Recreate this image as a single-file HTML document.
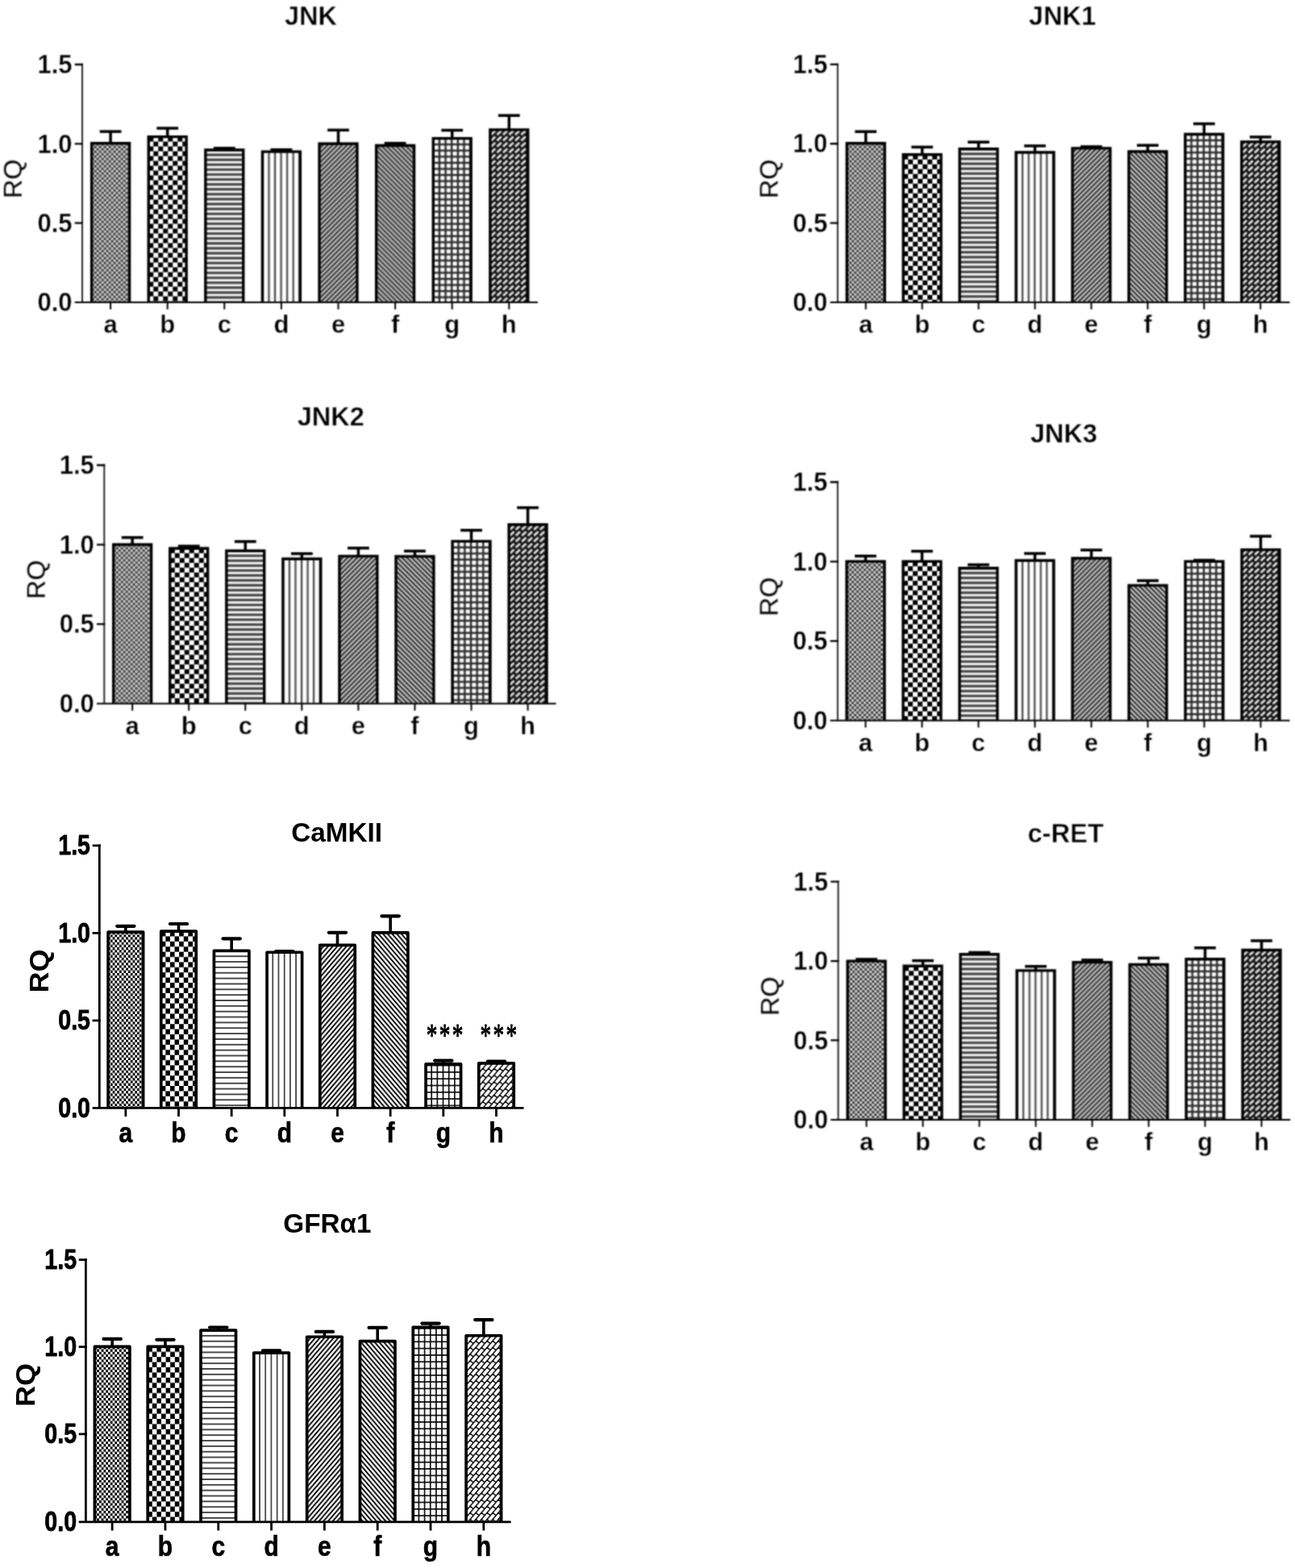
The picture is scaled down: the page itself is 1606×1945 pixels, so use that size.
<!DOCTYPE html>
<html lang="en">
<head>
<meta charset="utf-8">
<title>RQ bar charts: JNK, JNK1, JNK2, JNK3, CaMKII, c-RET, GFRα1</title>
<style>
html,body{margin:0;padding:0;background:#fff;}
body{width:1606px;height:1945px;overflow:hidden;}
svg{display:block;}
svg text{font-family:"Liberation Sans", sans-serif;fill:#000;}
</style>
</head>
<body>
<svg width="1606" height="1945" viewBox="0 0 1606 1945" role="img" aria-label="Bar charts of relative quantity (RQ) for groups a to h">
<rect width="1606" height="1945" fill="#fff"/>

<defs>
<filter id="soft" x="-4%" y="-4%" width="108%" height="108%" color-interpolation-filters="sRGB"><feConvolveMatrix order="5 1" kernelMatrix="0.0219 0.2285 0.4991 0.2285 0.0219" divisor="1" edgeMode="none" preserveAlpha="false" result="h"/><feConvolveMatrix in="h" order="1 5" kernelMatrix="0.0219 0.2285 0.4991 0.2285 0.0219" divisor="1" edgeMode="none" preserveAlpha="false"/></filter>
<!-- style A (fine) patterns -->
<pattern id="Aa" width="6" height="6" patternUnits="userSpaceOnUse"><rect width="6" height="6" fill="#d4d4d4"/><rect width="3" height="3" fill="#3c3c3c"/><rect x="3" y="3" width="3" height="3" fill="#3c3c3c"/></pattern>
<pattern id="Ab" width="12" height="12" patternUnits="userSpaceOnUse"><rect width="12" height="12" fill="#fff"/><rect width="6" height="6" fill="#000"/><rect x="6" y="6" width="6" height="6" fill="#000"/></pattern>
<pattern id="Ac" width="6.1" height="6.1" patternUnits="userSpaceOnUse"><rect width="6.1" height="6.1" fill="#f8f8f8"/><rect y="0" width="6.1" height="1.55" fill="#404040"/><rect y="4.55" width="6.1" height="1.55" fill="#404040"/></pattern>
<pattern id="Ad" width="7.55" height="8" patternUnits="userSpaceOnUse"><rect width="7.55" height="8" fill="#fff"/><rect x="0" width="1.15" height="8" fill="#484848"/><rect x="6.4" width="1.15" height="8" fill="#484848"/></pattern>
<pattern id="Ae" width="6" height="6" patternUnits="userSpaceOnUse"><rect width="6" height="6" fill="#cfcfcf"/><path d="M-1.5,1.5 L1.5,-1.5 M-1,7 L7,-1 M4.5,7.5 L7.5,4.5" stroke="#2c2c2c" stroke-width="2.15"/></pattern>
<pattern id="Af" width="6" height="6" patternUnits="userSpaceOnUse"><rect width="6" height="6" fill="#cfcfcf"/><path d="M-1.5,4.5 L1.5,7.5 M-1,-1 L7,7 M4.5,-1.5 L7.5,1.5" stroke="#2c2c2c" stroke-width="2.15"/></pattern>
<pattern id="Ag" width="7.65" height="7.58" patternUnits="userSpaceOnUse"><rect width="7.65" height="7.58" fill="#2a2a2a"/><rect x="1.25" y="1.25" width="5.15" height="5.08" fill="#fff"/></pattern>
<pattern id="Ah" width="7.5" height="7.4" patternUnits="userSpaceOnUse"><rect width="7.5" height="7.4" fill="#101010"/><path d="M1.9,5.5 L5.6,1.9" stroke="#e4e4e4" stroke-width="2.8" stroke-linecap="round"/></pattern>
<!-- style B (coarse, crisp) patterns -->
<pattern id="Ba" width="5.54" height="6.36" patternUnits="userSpaceOnUse"><rect width="5.54" height="6.36" fill="#fff"/><rect width="2.77" height="3.18" fill="#000"/><rect x="2.77" y="3.18" width="2.77" height="3.18" fill="#000"/></pattern>
<pattern id="Bb" width="11.2" height="12.8" patternUnits="userSpaceOnUse"><rect width="11.2" height="12.8" fill="#fff"/><rect width="5.6" height="6.4" fill="#000"/><rect x="5.6" y="6.4" width="5.6" height="6.4" fill="#000"/></pattern>
<pattern id="Bc" width="6.85" height="6.85" patternUnits="userSpaceOnUse"><rect width="6.85" height="6.85" fill="#fff"/><rect y="0" width="6.85" height="0.7" fill="#000"/><rect y="6.15" width="6.85" height="0.7" fill="#000"/></pattern>
<pattern id="Bd" width="7.2" height="8" patternUnits="userSpaceOnUse"><rect width="7.2" height="8" fill="#fff"/><rect x="0" width="0.65" height="8" fill="#000"/><rect x="6.55" width="0.65" height="8" fill="#000"/></pattern>
<pattern id="Be" width="5.7" height="6.65" patternUnits="userSpaceOnUse"><rect width="5.7" height="6.65" fill="#fff"/><path d="M-2.85,3.325 L2.85,-3.325 M-1.425,8.3125 L7.125,-1.6625 M2.85,9.975000000000001 L8.55,3.325" stroke="#000" stroke-width="1.9"/></pattern>
<pattern id="Bf" width="5.7" height="6.65" patternUnits="userSpaceOnUse"><rect width="5.7" height="6.65" fill="#fff"/><path d="M-2.85,3.325 L2.85,9.975000000000001 M-1.425,-1.6625 L7.125,8.3125 M2.85,-3.325 L8.55,3.325" stroke="#000" stroke-width="1.9"/></pattern>
<pattern id="Bg" width="7.15" height="8.3" patternUnits="userSpaceOnUse"><rect width="7.15" height="8.3" fill="#fff"/><rect width="7.15" height="0.8" fill="#000"/><rect y="7.5" width="7.15" height="0.8" fill="#000"/><rect width="0.8" height="8.3" fill="#000"/><rect x="6.35" width="0.8" height="8.3" fill="#000"/></pattern>
<pattern id="Bh" width="7.0" height="8.2" patternUnits="userSpaceOnUse"><rect width="7.0" height="8.2" fill="#fff"/><path d="M-0.70,13.12 L14.70,-4.92 M-7.70,13.12 L7.70,-4.92 M6.30,13.12 L21.70,-4.92 M-2.05,-1.75 L2.05,1.75 M4.95,-1.75 L9.05,1.75 M-2.05,6.45 L2.05,9.95 M4.95,6.45 L9.05,9.95" stroke="#000" stroke-width="1.45" fill="none"/></pattern>
</defs>

<g filter="url(#soft)">
<text transform="translate(385.5 31.2) scale(1 1.01)" font-size="32.6" font-weight="bold" text-anchor="middle" stroke="#fff" stroke-width="0.4">JNK</text>
<text transform="translate(26.5 221.8) rotate(-90) scale(1 0.99)" font-size="32.5" font-weight="normal" text-anchor="middle">RQ</text>
<path d="M123.7 163.15 H150.5" stroke="#000" stroke-width="3.5" stroke-linecap="butt" fill="none"/>
<path d="M137.1 163.15 V177.1" stroke="#000" stroke-width="3.5" fill="none"/>
<pattern id="p1a" href="#Aa" x="113.65" y="177.8"/>
<path d="M113.65 375 V177.8 H160.55 V375" fill="url(#p1a)" stroke="#000" stroke-width="3.4" stroke-linejoin="miter"/>
<path d="M194.3 159.05 H221.1" stroke="#000" stroke-width="3.5" stroke-linecap="butt" fill="none"/>
<path d="M207.7 159.05 V168.9" stroke="#000" stroke-width="3.5" fill="none"/>
<pattern id="p1b" href="#Ab" x="184.25" y="169.6"/>
<path d="M184.25 375 V169.6 H231.15 V375" fill="url(#p1b)" stroke="#000" stroke-width="3.4" stroke-linejoin="miter"/>
<path d="M264.9 183.85 H291.7" stroke="#000" stroke-width="3.5" stroke-linecap="butt" fill="none"/>
<path d="M278.3 183.85 V185.3" stroke="#000" stroke-width="3.5" fill="none"/>
<pattern id="p1c" href="#Ac" x="254.85" y="186"/>
<path d="M254.85 375 V186 H301.75 V375" fill="url(#p1c)" stroke="#000" stroke-width="3.4" stroke-linejoin="miter"/>
<path d="M335.5 185.75 H362.3" stroke="#000" stroke-width="3.5" stroke-linecap="butt" fill="none"/>
<path d="M348.9 185.75 V187.4" stroke="#000" stroke-width="3.5" fill="none"/>
<pattern id="p1d" href="#Ad" x="325.95" y="188.1"/>
<path d="M325.45 375 V188.1 H372.35 V375" fill="url(#p1d)" stroke="#000" stroke-width="3.4" stroke-linejoin="miter"/>
<path d="M406.1 161.35 H432.9" stroke="#000" stroke-width="3.5" stroke-linecap="butt" fill="none"/>
<path d="M419.5 161.35 V177.6" stroke="#000" stroke-width="3.5" fill="none"/>
<pattern id="p1e" href="#Ae" x="396.05" y="178.3"/>
<path d="M396.05 375 V178.3 H442.95 V375" fill="url(#p1e)" stroke="#000" stroke-width="3.4" stroke-linejoin="miter"/>
<path d="M476.7 177.75 H503.5" stroke="#000" stroke-width="3.5" stroke-linecap="butt" fill="none"/>
<path d="M490.1 177.75 V179.8" stroke="#000" stroke-width="3.5" fill="none"/>
<pattern id="p1f" href="#Af" x="466.65" y="180.5"/>
<path d="M466.65 375 V180.5 H513.55 V375" fill="url(#p1f)" stroke="#000" stroke-width="3.4" stroke-linejoin="miter"/>
<path d="M547.3 161.55 H574.1" stroke="#000" stroke-width="3.5" stroke-linecap="butt" fill="none"/>
<path d="M560.7 161.55 V170.9" stroke="#000" stroke-width="3.5" fill="none"/>
<pattern id="p1g" href="#Ag" x="537.25" y="171.6"/>
<path d="M537.25 375 V171.6 H584.15 V375" fill="url(#p1g)" stroke="#000" stroke-width="3.4" stroke-linejoin="miter"/>
<path d="M617.9 143.25 H644.7" stroke="#000" stroke-width="3.5" stroke-linecap="butt" fill="none"/>
<path d="M631.3 143.25 V160.2" stroke="#000" stroke-width="3.5" fill="none"/>
<pattern id="p1h" href="#Ah" x="607.85" y="160.9"/>
<path d="M607.85 375 V160.9 H654.75 V375" fill="url(#p1h)" stroke="#000" stroke-width="3.4" stroke-linejoin="miter"/>
<path d="M102 78.85 V375" stroke="#1c1c1c" stroke-width="1.9" fill="none"/>
<path d="M102.95 80 H92.7 M102.95 178.33 H92.7 M102.95 276.67 H92.7" stroke="#000" stroke-width="2.3" fill="none"/>
<path d="M92.7 375 H667 M137.1 375 V383.8 M207.7 375 V383.8 M278.3 375 V383.8 M348.9 375 V383.8 M419.5 375 V383.8 M490.1 375 V383.8 M560.7 375 V383.8 M631.3 375 V383.8" stroke="#000" stroke-width="2" fill="none"/>
<text transform="translate(89.5 91.2) scale(1 1.07)" font-size="31" font-weight="bold" text-anchor="end" stroke="#fff" stroke-width="0.35">1.5</text>
<text transform="translate(89.5 189.53) scale(1 1.07)" font-size="31" font-weight="bold" text-anchor="end" stroke="#fff" stroke-width="0.35">1.0</text>
<text transform="translate(89.5 287.87) scale(1 1.07)" font-size="31" font-weight="bold" text-anchor="end" stroke="#fff" stroke-width="0.35">0.5</text>
<text transform="translate(89.5 386.2) scale(1 1.07)" font-size="31" font-weight="bold" text-anchor="end" stroke="#fff" stroke-width="0.35">0.0</text>
<text transform="translate(137.1 412.8)" font-size="31" font-weight="bold" text-anchor="middle" stroke="#fff" stroke-width="0.35">a</text>
<text transform="translate(207.7 412.8)" font-size="31" font-weight="bold" text-anchor="middle" stroke="#fff" stroke-width="0.35">b</text>
<text transform="translate(278.3 412.8)" font-size="31" font-weight="bold" text-anchor="middle" stroke="#fff" stroke-width="0.35">c</text>
<text transform="translate(348.9 412.8)" font-size="31" font-weight="bold" text-anchor="middle" stroke="#fff" stroke-width="0.35">d</text>
<text transform="translate(419.5 412.8)" font-size="31" font-weight="bold" text-anchor="middle" stroke="#fff" stroke-width="0.35">e</text>
<text transform="translate(490.1 412.8)" font-size="31" font-weight="bold" text-anchor="middle" stroke="#fff" stroke-width="0.35">f</text>
<text transform="translate(560.7 412.8)" font-size="31" font-weight="bold" text-anchor="middle" stroke="#fff" stroke-width="0.35">g</text>
<text transform="translate(631.3 412.8)" font-size="31" font-weight="bold" text-anchor="middle" stroke="#fff" stroke-width="0.35">h</text>
</g>
<g filter="url(#soft)">
<text transform="translate(1317.5 31.2) scale(1 1.01)" font-size="32.6" font-weight="bold" text-anchor="middle" stroke="#fff" stroke-width="0.4">JNK1</text>
<text transform="translate(964.2 221.9) rotate(-90) scale(1 0.99)" font-size="32.5" font-weight="normal" text-anchor="middle">RQ</text>
<path d="M1060.3 163.25 H1087.1" stroke="#000" stroke-width="3.5" stroke-linecap="butt" fill="none"/>
<path d="M1073.7 163.25 V177" stroke="#000" stroke-width="3.5" fill="none"/>
<pattern id="p2a" href="#Aa" x="1050.25" y="177.7"/>
<path d="M1050.25 375 V177.7 H1097.15 V375" fill="url(#p2a)" stroke="#000" stroke-width="3.4" stroke-linejoin="miter"/>
<path d="M1130.23 182.45 H1157.03" stroke="#000" stroke-width="3.5" stroke-linecap="butt" fill="none"/>
<path d="M1143.63 182.45 V191.1" stroke="#000" stroke-width="3.5" fill="none"/>
<pattern id="p2b" href="#Ab" x="1120.18" y="191.8"/>
<path d="M1120.18 375 V191.8 H1167.08 V375" fill="url(#p2b)" stroke="#000" stroke-width="3.4" stroke-linejoin="miter"/>
<path d="M1200.16 176.25 H1226.96" stroke="#000" stroke-width="3.5" stroke-linecap="butt" fill="none"/>
<path d="M1213.56 176.25 V184.1" stroke="#000" stroke-width="3.5" fill="none"/>
<pattern id="p2c" href="#Ac" x="1190.11" y="184.8"/>
<path d="M1190.11 375 V184.8 H1237.01 V375" fill="url(#p2c)" stroke="#000" stroke-width="3.4" stroke-linejoin="miter"/>
<path d="M1270.09 180.95 H1296.89" stroke="#000" stroke-width="3.5" stroke-linecap="butt" fill="none"/>
<path d="M1283.49 180.95 V188.3" stroke="#000" stroke-width="3.5" fill="none"/>
<pattern id="p2d" href="#Ad" x="1260.54" y="189"/>
<path d="M1260.04 375 V189 H1306.94 V375" fill="url(#p2d)" stroke="#000" stroke-width="3.4" stroke-linejoin="miter"/>
<path d="M1340.02 181.95 H1366.82" stroke="#000" stroke-width="3.5" stroke-linecap="butt" fill="none"/>
<path d="M1353.42 181.95 V183.2" stroke="#000" stroke-width="3.5" fill="none"/>
<pattern id="p2e" href="#Ae" x="1329.97" y="183.9"/>
<path d="M1329.97 375 V183.9 H1376.87 V375" fill="url(#p2e)" stroke="#000" stroke-width="3.4" stroke-linejoin="miter"/>
<path d="M1409.95 180.25 H1436.75" stroke="#000" stroke-width="3.5" stroke-linecap="butt" fill="none"/>
<path d="M1423.35 180.25 V187.3" stroke="#000" stroke-width="3.5" fill="none"/>
<pattern id="p2f" href="#Af" x="1399.9" y="188"/>
<path d="M1399.9 375 V188 H1446.8 V375" fill="url(#p2f)" stroke="#000" stroke-width="3.4" stroke-linejoin="miter"/>
<path d="M1479.88 153.55 H1506.68" stroke="#000" stroke-width="3.5" stroke-linecap="butt" fill="none"/>
<path d="M1493.28 153.55 V165.8" stroke="#000" stroke-width="3.5" fill="none"/>
<pattern id="p2g" href="#Ag" x="1469.83" y="166.5"/>
<path d="M1469.83 375 V166.5 H1516.73 V375" fill="url(#p2g)" stroke="#000" stroke-width="3.4" stroke-linejoin="miter"/>
<path d="M1549.81 169.95 H1576.61" stroke="#000" stroke-width="3.5" stroke-linecap="butt" fill="none"/>
<path d="M1563.21 169.95 V175.2" stroke="#000" stroke-width="3.5" fill="none"/>
<pattern id="p2h" href="#Ah" x="1539.76" y="175.9"/>
<path d="M1539.76 375 V175.9 H1586.66 V375" fill="url(#p2h)" stroke="#000" stroke-width="3.4" stroke-linejoin="miter"/>
<path d="M1038.8 78.75 V375" stroke="#1c1c1c" stroke-width="1.9" fill="none"/>
<path d="M1039.75 79.9 H1029.5 M1039.75 178.27 H1029.5 M1039.75 276.63 H1029.5" stroke="#000" stroke-width="2.3" fill="none"/>
<path d="M1029.5 375 H1599.5 M1073.7 375 V383.8 M1143.63 375 V383.8 M1213.56 375 V383.8 M1283.49 375 V383.8 M1353.42 375 V383.8 M1423.35 375 V383.8 M1493.28 375 V383.8 M1563.21 375 V383.8" stroke="#000" stroke-width="2" fill="none"/>
<text transform="translate(1026.3 91.1) scale(1 1.07)" font-size="31" font-weight="bold" text-anchor="end" stroke="#fff" stroke-width="0.35">1.5</text>
<text transform="translate(1026.3 189.47) scale(1 1.07)" font-size="31" font-weight="bold" text-anchor="end" stroke="#fff" stroke-width="0.35">1.0</text>
<text transform="translate(1026.3 287.83) scale(1 1.07)" font-size="31" font-weight="bold" text-anchor="end" stroke="#fff" stroke-width="0.35">0.5</text>
<text transform="translate(1026.3 386.2) scale(1 1.07)" font-size="31" font-weight="bold" text-anchor="end" stroke="#fff" stroke-width="0.35">0.0</text>
<text transform="translate(1073.7 412.8)" font-size="31" font-weight="bold" text-anchor="middle" stroke="#fff" stroke-width="0.35">a</text>
<text transform="translate(1143.63 412.8)" font-size="31" font-weight="bold" text-anchor="middle" stroke="#fff" stroke-width="0.35">b</text>
<text transform="translate(1213.56 412.8)" font-size="31" font-weight="bold" text-anchor="middle" stroke="#fff" stroke-width="0.35">c</text>
<text transform="translate(1283.49 412.8)" font-size="31" font-weight="bold" text-anchor="middle" stroke="#fff" stroke-width="0.35">d</text>
<text transform="translate(1353.42 412.8)" font-size="31" font-weight="bold" text-anchor="middle" stroke="#fff" stroke-width="0.35">e</text>
<text transform="translate(1423.35 412.8)" font-size="31" font-weight="bold" text-anchor="middle" stroke="#fff" stroke-width="0.35">f</text>
<text transform="translate(1493.28 412.8)" font-size="31" font-weight="bold" text-anchor="middle" stroke="#fff" stroke-width="0.35">g</text>
<text transform="translate(1563.21 412.8)" font-size="31" font-weight="bold" text-anchor="middle" stroke="#fff" stroke-width="0.35">h</text>
</g>
<g filter="url(#soft)">
<text transform="translate(410.3 528.2) scale(1 1.01)" font-size="32.6" font-weight="bold" text-anchor="middle" stroke="#fff" stroke-width="0.4">JNK2</text>
<text transform="translate(55.4 718.9) rotate(-90) scale(1 0.99)" font-size="32.5" font-weight="normal" text-anchor="middle">RQ</text>
<path d="M150.75 666.75 H177.55" stroke="#000" stroke-width="3.5" stroke-linecap="butt" fill="none"/>
<path d="M164.15 666.75 V674.8" stroke="#000" stroke-width="3.5" fill="none"/>
<pattern id="p3a" href="#Aa" x="140.7" y="675.5"/>
<path d="M140.7 872.7 V675.5 H187.6 V872.7" fill="url(#p3a)" stroke="#000" stroke-width="3.4" stroke-linejoin="miter"/>
<path d="M220.81 677.45 H247.61" stroke="#000" stroke-width="3.5" stroke-linecap="butt" fill="none"/>
<path d="M234.21 677.45 V679.5" stroke="#000" stroke-width="3.5" fill="none"/>
<pattern id="p3b" href="#Ab" x="210.76" y="680.2"/>
<path d="M210.76 872.7 V680.2 H257.66 V872.7" fill="url(#p3b)" stroke="#000" stroke-width="3.4" stroke-linejoin="miter"/>
<path d="M290.87 671.75 H317.67" stroke="#000" stroke-width="3.5" stroke-linecap="butt" fill="none"/>
<path d="M304.27 671.75 V682.6" stroke="#000" stroke-width="3.5" fill="none"/>
<pattern id="p3c" href="#Ac" x="280.82" y="683.3"/>
<path d="M280.82 872.7 V683.3 H327.72 V872.7" fill="url(#p3c)" stroke="#000" stroke-width="3.4" stroke-linejoin="miter"/>
<path d="M360.93 686.75 H387.73" stroke="#000" stroke-width="3.5" stroke-linecap="butt" fill="none"/>
<path d="M374.33 686.75 V692.5" stroke="#000" stroke-width="3.5" fill="none"/>
<pattern id="p3d" href="#Ad" x="351.38" y="693.2"/>
<path d="M350.88 872.7 V693.2 H397.78 V872.7" fill="url(#p3d)" stroke="#000" stroke-width="3.4" stroke-linejoin="miter"/>
<path d="M430.99 679.85 H457.79" stroke="#000" stroke-width="3.5" stroke-linecap="butt" fill="none"/>
<path d="M444.39 679.85 V689.2" stroke="#000" stroke-width="3.5" fill="none"/>
<pattern id="p3e" href="#Ae" x="420.94" y="689.9"/>
<path d="M420.94 872.7 V689.9 H467.84 V872.7" fill="url(#p3e)" stroke="#000" stroke-width="3.4" stroke-linejoin="miter"/>
<path d="M501.05 683.55 H527.85" stroke="#000" stroke-width="3.5" stroke-linecap="butt" fill="none"/>
<path d="M514.45 683.55 V689.4" stroke="#000" stroke-width="3.5" fill="none"/>
<pattern id="p3f" href="#Af" x="491" y="690.1"/>
<path d="M491 872.7 V690.1 H537.9 V872.7" fill="url(#p3f)" stroke="#000" stroke-width="3.4" stroke-linejoin="miter"/>
<path d="M571.11 657.75 H597.91" stroke="#000" stroke-width="3.5" stroke-linecap="butt" fill="none"/>
<path d="M584.51 657.75 V670.7" stroke="#000" stroke-width="3.5" fill="none"/>
<pattern id="p3g" href="#Ag" x="561.06" y="671.4"/>
<path d="M561.06 872.7 V671.4 H607.96 V872.7" fill="url(#p3g)" stroke="#000" stroke-width="3.4" stroke-linejoin="miter"/>
<path d="M641.17 629.75 H667.97" stroke="#000" stroke-width="3.5" stroke-linecap="butt" fill="none"/>
<path d="M654.57 629.75 V650.1" stroke="#000" stroke-width="3.5" fill="none"/>
<pattern id="p3h" href="#Ah" x="631.12" y="650.8"/>
<path d="M631.12 872.7 V650.8 H678.02 V872.7" fill="url(#p3h)" stroke="#000" stroke-width="3.4" stroke-linejoin="miter"/>
<path d="M129.3 575.85 V872.7" stroke="#1c1c1c" stroke-width="1.9" fill="none"/>
<path d="M130.25 577 H120 M130.25 675.57 H120 M130.25 774.13 H120" stroke="#000" stroke-width="2.3" fill="none"/>
<path d="M120 872.7 H689.6 M164.15 872.7 V881.5 M234.21 872.7 V881.5 M304.27 872.7 V881.5 M374.33 872.7 V881.5 M444.39 872.7 V881.5 M514.45 872.7 V881.5 M584.51 872.7 V881.5 M654.57 872.7 V881.5" stroke="#000" stroke-width="2" fill="none"/>
<text transform="translate(116.8 588.2) scale(1 1.07)" font-size="31" font-weight="bold" text-anchor="end" stroke="#fff" stroke-width="0.35">1.5</text>
<text transform="translate(116.8 686.77) scale(1 1.07)" font-size="31" font-weight="bold" text-anchor="end" stroke="#fff" stroke-width="0.35">1.0</text>
<text transform="translate(116.8 785.33) scale(1 1.07)" font-size="31" font-weight="bold" text-anchor="end" stroke="#fff" stroke-width="0.35">0.5</text>
<text transform="translate(116.8 883.9) scale(1 1.07)" font-size="31" font-weight="bold" text-anchor="end" stroke="#fff" stroke-width="0.35">0.0</text>
<text transform="translate(164.15 910.5)" font-size="31" font-weight="bold" text-anchor="middle" stroke="#fff" stroke-width="0.35">a</text>
<text transform="translate(234.21 910.5)" font-size="31" font-weight="bold" text-anchor="middle" stroke="#fff" stroke-width="0.35">b</text>
<text transform="translate(304.27 910.5)" font-size="31" font-weight="bold" text-anchor="middle" stroke="#fff" stroke-width="0.35">c</text>
<text transform="translate(374.33 910.5)" font-size="31" font-weight="bold" text-anchor="middle" stroke="#fff" stroke-width="0.35">d</text>
<text transform="translate(444.39 910.5)" font-size="31" font-weight="bold" text-anchor="middle" stroke="#fff" stroke-width="0.35">e</text>
<text transform="translate(514.45 910.5)" font-size="31" font-weight="bold" text-anchor="middle" stroke="#fff" stroke-width="0.35">f</text>
<text transform="translate(584.51 910.5)" font-size="31" font-weight="bold" text-anchor="middle" stroke="#fff" stroke-width="0.35">g</text>
<text transform="translate(654.57 910.5)" font-size="31" font-weight="bold" text-anchor="middle" stroke="#fff" stroke-width="0.35">h</text>
</g>
<g filter="url(#soft)">
<text transform="translate(1319.3 549) scale(1 1.01)" font-size="32.6" font-weight="bold" text-anchor="middle" stroke="#fff" stroke-width="0.4">JNK3</text>
<text transform="translate(964.2 740.2) rotate(-90) scale(1 0.99)" font-size="32.5" font-weight="normal" text-anchor="middle">RQ</text>
<path d="M1060.05 689.75 H1086.85" stroke="#000" stroke-width="3.5" stroke-linecap="butt" fill="none"/>
<path d="M1073.45 689.75 V695.7" stroke="#000" stroke-width="3.5" fill="none"/>
<pattern id="p4a" href="#Aa" x="1050" y="696.4"/>
<path d="M1050 893.8 V696.4 H1096.9 V893.8" fill="url(#p4a)" stroke="#000" stroke-width="3.4" stroke-linejoin="miter"/>
<path d="M1130.05 683.75 H1156.85" stroke="#000" stroke-width="3.5" stroke-linecap="butt" fill="none"/>
<path d="M1143.45 683.75 V695.7" stroke="#000" stroke-width="3.5" fill="none"/>
<pattern id="p4b" href="#Ab" x="1120" y="696.4"/>
<path d="M1120 893.8 V696.4 H1166.9 V893.8" fill="url(#p4b)" stroke="#000" stroke-width="3.4" stroke-linejoin="miter"/>
<path d="M1200.05 700.55 H1226.85" stroke="#000" stroke-width="3.5" stroke-linecap="butt" fill="none"/>
<path d="M1213.45 700.55 V704" stroke="#000" stroke-width="3.5" fill="none"/>
<pattern id="p4c" href="#Ac" x="1190" y="704.7"/>
<path d="M1190 893.8 V704.7 H1236.9 V893.8" fill="url(#p4c)" stroke="#000" stroke-width="3.4" stroke-linejoin="miter"/>
<path d="M1270.05 686.55 H1296.85" stroke="#000" stroke-width="3.5" stroke-linecap="butt" fill="none"/>
<path d="M1283.45 686.55 V694.6" stroke="#000" stroke-width="3.5" fill="none"/>
<pattern id="p4d" href="#Ad" x="1260.5" y="695.3"/>
<path d="M1260 893.8 V695.3 H1306.9 V893.8" fill="url(#p4d)" stroke="#000" stroke-width="3.4" stroke-linejoin="miter"/>
<path d="M1340.05 682.25 H1366.85" stroke="#000" stroke-width="3.5" stroke-linecap="butt" fill="none"/>
<path d="M1353.45 682.25 V691.8" stroke="#000" stroke-width="3.5" fill="none"/>
<pattern id="p4e" href="#Ae" x="1330" y="692.5"/>
<path d="M1330 893.8 V692.5 H1376.9 V893.8" fill="url(#p4e)" stroke="#000" stroke-width="3.4" stroke-linejoin="miter"/>
<path d="M1410.05 720.25 H1436.85" stroke="#000" stroke-width="3.5" stroke-linecap="butt" fill="none"/>
<path d="M1423.45 720.25 V725.4" stroke="#000" stroke-width="3.5" fill="none"/>
<pattern id="p4f" href="#Af" x="1400" y="726.1"/>
<path d="M1400 893.8 V726.1 H1446.9 V893.8" fill="url(#p4f)" stroke="#000" stroke-width="3.4" stroke-linejoin="miter"/>
<path d="M1480.05 694.95 H1506.85" stroke="#000" stroke-width="3.5" stroke-linecap="butt" fill="none"/>
<path d="M1493.45 694.95 V695.7" stroke="#000" stroke-width="3.5" fill="none"/>
<pattern id="p4g" href="#Ag" x="1470" y="696.4"/>
<path d="M1470 893.8 V696.4 H1516.9 V893.8" fill="url(#p4g)" stroke="#000" stroke-width="3.4" stroke-linejoin="miter"/>
<path d="M1550.05 665.15 H1576.85" stroke="#000" stroke-width="3.5" stroke-linecap="butt" fill="none"/>
<path d="M1563.45 665.15 V681.2" stroke="#000" stroke-width="3.5" fill="none"/>
<pattern id="p4h" href="#Ah" x="1540" y="681.9"/>
<path d="M1540 893.8 V681.9 H1586.9 V893.8" fill="url(#p4h)" stroke="#000" stroke-width="3.4" stroke-linejoin="miter"/>
<path d="M1038.8 596.85 V893.8" stroke="#1c1c1c" stroke-width="1.9" fill="none"/>
<path d="M1039.75 598 H1029.5 M1039.75 696.6 H1029.5 M1039.75 795.2 H1029.5" stroke="#000" stroke-width="2.3" fill="none"/>
<path d="M1029.5 893.8 H1599.5 M1073.45 893.8 V902.6 M1143.45 893.8 V902.6 M1213.45 893.8 V902.6 M1283.45 893.8 V902.6 M1353.45 893.8 V902.6 M1423.45 893.8 V902.6 M1493.45 893.8 V902.6 M1563.45 893.8 V902.6" stroke="#000" stroke-width="2" fill="none"/>
<text transform="translate(1026.3 609.2) scale(1 1.07)" font-size="31" font-weight="bold" text-anchor="end" stroke="#fff" stroke-width="0.35">1.5</text>
<text transform="translate(1026.3 707.8) scale(1 1.07)" font-size="31" font-weight="bold" text-anchor="end" stroke="#fff" stroke-width="0.35">1.0</text>
<text transform="translate(1026.3 806.4) scale(1 1.07)" font-size="31" font-weight="bold" text-anchor="end" stroke="#fff" stroke-width="0.35">0.5</text>
<text transform="translate(1026.3 905) scale(1 1.07)" font-size="31" font-weight="bold" text-anchor="end" stroke="#fff" stroke-width="0.35">0.0</text>
<text transform="translate(1073.45 931.6)" font-size="31" font-weight="bold" text-anchor="middle" stroke="#fff" stroke-width="0.35">a</text>
<text transform="translate(1143.45 931.6)" font-size="31" font-weight="bold" text-anchor="middle" stroke="#fff" stroke-width="0.35">b</text>
<text transform="translate(1213.45 931.6)" font-size="31" font-weight="bold" text-anchor="middle" stroke="#fff" stroke-width="0.35">c</text>
<text transform="translate(1283.45 931.6)" font-size="31" font-weight="bold" text-anchor="middle" stroke="#fff" stroke-width="0.35">d</text>
<text transform="translate(1353.45 931.6)" font-size="31" font-weight="bold" text-anchor="middle" stroke="#fff" stroke-width="0.35">e</text>
<text transform="translate(1423.45 931.6)" font-size="31" font-weight="bold" text-anchor="middle" stroke="#fff" stroke-width="0.35">f</text>
<text transform="translate(1493.45 931.6)" font-size="31" font-weight="bold" text-anchor="middle" stroke="#fff" stroke-width="0.35">g</text>
<text transform="translate(1563.45 931.6)" font-size="31" font-weight="bold" text-anchor="middle" stroke="#fff" stroke-width="0.35">h</text>
</g>
<g>
<text transform="translate(417.7 1043.5) scale(1 1.01)" font-size="33.3" font-weight="bold" text-anchor="middle">CaMKII</text>
<text transform="translate(60.1 1204.4) rotate(-90) scale(1 0.93)" font-size="36" font-weight="bold" text-anchor="middle">RQ</text>
<path d="M145.2 1148.8 H166.5" stroke="#000" stroke-width="4.2" stroke-linecap="round" fill="none"/>
<path d="M155.85 1148.8 V1155.2" stroke="#000" stroke-width="3.6" fill="none"/>
<pattern id="p5a" href="#Ba" x="134.1" y="1156.05"/>
<path d="M134.1 1374.3 V1156.05 H177.6 V1374.3" fill="url(#p5a)" stroke="#000" stroke-width="3.7" stroke-linejoin="round"/>
<path d="M210.86 1146 H232.16" stroke="#000" stroke-width="4.2" stroke-linecap="round" fill="none"/>
<path d="M221.51 1146 V1154.2" stroke="#000" stroke-width="3.6" fill="none"/>
<pattern id="p5b" href="#Bb" x="199.76" y="1155.05"/>
<path d="M199.76 1374.3 V1155.05 H243.26 V1374.3" fill="url(#p5b)" stroke="#000" stroke-width="3.7" stroke-linejoin="round"/>
<path d="M276.52 1164.3 H297.82" stroke="#000" stroke-width="4.2" stroke-linecap="round" fill="none"/>
<path d="M287.17 1164.3 V1178.5" stroke="#000" stroke-width="3.6" fill="none"/>
<pattern id="p5c" href="#Bc" x="265.42" y="1179.35"/>
<path d="M265.42 1374.3 V1179.35 H308.92 V1374.3" fill="url(#p5c)" stroke="#000" stroke-width="3.7" stroke-linejoin="round"/>
<path d="M342.18 1180.2 H363.48" stroke="#000" stroke-width="4.2" stroke-linecap="round" fill="none"/>
<path d="M352.83 1180.2 V1180.4" stroke="#000" stroke-width="3.6" fill="none"/>
<pattern id="p5d" href="#Bd" x="331.08" y="1181.25"/>
<path d="M331.08 1374.3 V1181.25 H374.58 V1374.3" fill="url(#p5d)" stroke="#000" stroke-width="3.7" stroke-linejoin="round"/>
<path d="M407.84 1156.8 H429.14" stroke="#000" stroke-width="4.2" stroke-linecap="round" fill="none"/>
<path d="M418.49 1156.8 V1171.6" stroke="#000" stroke-width="3.6" fill="none"/>
<pattern id="p5e" href="#Be" x="396.74" y="1172.45"/>
<path d="M396.74 1374.3 V1172.45 H440.24 V1374.3" fill="url(#p5e)" stroke="#000" stroke-width="3.7" stroke-linejoin="round"/>
<path d="M473.5 1136.3 H494.8" stroke="#000" stroke-width="4.2" stroke-linecap="round" fill="none"/>
<path d="M484.15 1136.3 V1156.1" stroke="#000" stroke-width="3.6" fill="none"/>
<pattern id="p5f" href="#Bf" x="462.4" y="1156.95"/>
<path d="M462.4 1374.3 V1156.95 H505.9 V1374.3" fill="url(#p5f)" stroke="#000" stroke-width="3.7" stroke-linejoin="round"/>
<path d="M539.16 1315.7 H560.46" stroke="#000" stroke-width="4.2" stroke-linecap="round" fill="none"/>
<path d="M549.81 1315.7 V1319" stroke="#000" stroke-width="3.6" fill="none"/>
<pattern id="p5g" href="#Bg" x="528.06" y="1321.6"/>
<path d="M528.06 1374.3 V1319.85 H571.56 V1374.3" fill="url(#p5g)" stroke="#000" stroke-width="3.7" stroke-linejoin="round"/>
<path d="M604.82 1316.6 H626.12" stroke="#000" stroke-width="4.2" stroke-linecap="round" fill="none"/>
<path d="M615.47 1316.6 V1318.1" stroke="#000" stroke-width="3.6" fill="none"/>
<pattern id="p5h" href="#Bh" x="593.72" y="1318.95"/>
<path d="M593.72 1374.3 V1318.95 H637.22 V1374.3" fill="url(#p5h)" stroke="#000" stroke-width="3.7" stroke-linejoin="round"/>
<path d="M123.3 1047.4 V1374.3" stroke="#000" stroke-width="2.8" fill="none"/>
<path d="M124.7 1048.8 H114.6 M124.7 1157.3 H114.6 M124.7 1265.8 H114.6" stroke="#000" stroke-width="2.8" fill="none"/>
<path d="M114.6 1374.3 H649.5 M155.85 1374.3 V1384.9 M221.51 1374.3 V1384.9 M287.17 1374.3 V1384.9 M352.83 1374.3 V1384.9 M418.49 1374.3 V1384.9 M484.15 1374.3 V1384.9 M549.81 1374.3 V1384.9 M615.47 1374.3 V1384.9" stroke="#000" stroke-width="2.8" fill="none"/>
<text transform="translate(112 1060.1) scale(0.82 1)" font-size="34.9" font-weight="bold" text-anchor="end" stroke="#000" stroke-width="0.8" stroke-linejoin="round">1.5</text>
<text transform="translate(112 1168.6) scale(0.82 1)" font-size="34.9" font-weight="bold" text-anchor="end" stroke="#000" stroke-width="0.8" stroke-linejoin="round">1.0</text>
<text transform="translate(112 1277.1) scale(0.82 1)" font-size="34.9" font-weight="bold" text-anchor="end" stroke="#000" stroke-width="0.8" stroke-linejoin="round">0.5</text>
<text transform="translate(112 1385.6) scale(0.82 1)" font-size="34.9" font-weight="bold" text-anchor="end" stroke="#000" stroke-width="0.8" stroke-linejoin="round">0.0</text>
<text transform="translate(155.85 1417.2) scale(0.863 1)" font-size="34.7" font-weight="bold" text-anchor="middle" stroke="#000" stroke-width="0.7" stroke-linejoin="round">a</text>
<text transform="translate(221.51 1417.2) scale(0.863 1)" font-size="34.7" font-weight="bold" text-anchor="middle" stroke="#000" stroke-width="0.7" stroke-linejoin="round">b</text>
<text transform="translate(287.17 1417.2) scale(0.863 1)" font-size="34.7" font-weight="bold" text-anchor="middle" stroke="#000" stroke-width="0.7" stroke-linejoin="round">c</text>
<text transform="translate(352.83 1417.2) scale(0.863 1)" font-size="34.7" font-weight="bold" text-anchor="middle" stroke="#000" stroke-width="0.7" stroke-linejoin="round">d</text>
<text transform="translate(418.49 1417.2) scale(0.863 1)" font-size="34.7" font-weight="bold" text-anchor="middle" stroke="#000" stroke-width="0.7" stroke-linejoin="round">e</text>
<text transform="translate(484.15 1417.2) scale(0.863 1)" font-size="34.7" font-weight="bold" text-anchor="middle" stroke="#000" stroke-width="0.7" stroke-linejoin="round">f</text>
<text transform="translate(549.81 1417.2) scale(0.863 1)" font-size="34.7" font-weight="bold" text-anchor="middle" stroke="#000" stroke-width="0.7" stroke-linejoin="round">g</text>
<text transform="translate(615.47 1417.2) scale(0.863 1)" font-size="34.7" font-weight="bold" text-anchor="middle" stroke="#000" stroke-width="0.7" stroke-linejoin="round">h</text>
<text transform="translate(551.6 1297) scale(0.758 1.135)" x="-21.04 0 21.04" font-size="36" font-weight="normal" text-anchor="middle" style="font-family:'Liberation Serif', serif" stroke="#000" stroke-width="0.9" stroke-linejoin="round">***</text>
<text transform="translate(618.3 1297) scale(0.758 1.135)" x="-21.04 0 21.04" font-size="36" font-weight="normal" text-anchor="middle" style="font-family:'Liberation Serif', serif" stroke="#000" stroke-width="0.9" stroke-linejoin="round">***</text>
</g>
<g filter="url(#soft)">
<text transform="translate(1321.5 1044.7) scale(1 1.01)" font-size="32.6" font-weight="bold" text-anchor="middle" stroke="#fff" stroke-width="0.4">c-RET</text>
<text transform="translate(965.5 1235.7) rotate(-90) scale(1 0.99)" font-size="32.5" font-weight="normal" text-anchor="middle">RQ</text>
<path d="M1061.15 1189.95 H1087.95" stroke="#000" stroke-width="3.5" stroke-linecap="butt" fill="none"/>
<path d="M1074.55 1189.95 V1191.4" stroke="#000" stroke-width="3.5" fill="none"/>
<pattern id="p6a" href="#Aa" x="1051.1" y="1192.1"/>
<path d="M1051.1 1388.9 V1192.1 H1098 V1388.9" fill="url(#p6a)" stroke="#000" stroke-width="3.4" stroke-linejoin="miter"/>
<path d="M1131.14 1191.65 H1157.94" stroke="#000" stroke-width="3.5" stroke-linecap="butt" fill="none"/>
<path d="M1144.54 1191.65 V1197.6" stroke="#000" stroke-width="3.5" fill="none"/>
<pattern id="p6b" href="#Ab" x="1121.09" y="1198.3"/>
<path d="M1121.09 1388.9 V1198.3 H1167.99 V1388.9" fill="url(#p6b)" stroke="#000" stroke-width="3.4" stroke-linejoin="miter"/>
<path d="M1201.13 1181.55 H1227.93" stroke="#000" stroke-width="3.5" stroke-linecap="butt" fill="none"/>
<path d="M1214.53 1181.55 V1183" stroke="#000" stroke-width="3.5" fill="none"/>
<pattern id="p6c" href="#Ac" x="1191.08" y="1183.7"/>
<path d="M1191.08 1388.9 V1183.7 H1237.98 V1388.9" fill="url(#p6c)" stroke="#000" stroke-width="3.4" stroke-linejoin="miter"/>
<path d="M1271.12 1198.75 H1297.92" stroke="#000" stroke-width="3.5" stroke-linecap="butt" fill="none"/>
<path d="M1284.52 1198.75 V1203.2" stroke="#000" stroke-width="3.5" fill="none"/>
<pattern id="p6d" href="#Ad" x="1261.57" y="1203.9"/>
<path d="M1261.07 1388.9 V1203.9 H1307.97 V1388.9" fill="url(#p6d)" stroke="#000" stroke-width="3.4" stroke-linejoin="miter"/>
<path d="M1341.11 1190.85 H1367.91" stroke="#000" stroke-width="3.5" stroke-linecap="butt" fill="none"/>
<path d="M1354.51 1190.85 V1192.9" stroke="#000" stroke-width="3.5" fill="none"/>
<pattern id="p6e" href="#Ae" x="1331.06" y="1193.6"/>
<path d="M1331.06 1388.9 V1193.6 H1377.96 V1388.9" fill="url(#p6e)" stroke="#000" stroke-width="3.4" stroke-linejoin="miter"/>
<path d="M1411.1 1188.45 H1437.9" stroke="#000" stroke-width="3.5" stroke-linecap="butt" fill="none"/>
<path d="M1424.5 1188.45 V1195.7" stroke="#000" stroke-width="3.5" fill="none"/>
<pattern id="p6f" href="#Af" x="1401.05" y="1196.4"/>
<path d="M1401.05 1388.9 V1196.4 H1447.95 V1388.9" fill="url(#p6f)" stroke="#000" stroke-width="3.4" stroke-linejoin="miter"/>
<path d="M1481.09 1175.75 H1507.89" stroke="#000" stroke-width="3.5" stroke-linecap="butt" fill="none"/>
<path d="M1494.49 1175.75 V1189" stroke="#000" stroke-width="3.5" fill="none"/>
<pattern id="p6g" href="#Ag" x="1471.04" y="1189.7"/>
<path d="M1471.04 1388.9 V1189.7 H1517.94 V1388.9" fill="url(#p6g)" stroke="#000" stroke-width="3.4" stroke-linejoin="miter"/>
<path d="M1551.08 1166.95 H1577.88" stroke="#000" stroke-width="3.5" stroke-linecap="butt" fill="none"/>
<path d="M1564.48 1166.95 V1177.8" stroke="#000" stroke-width="3.5" fill="none"/>
<pattern id="p6h" href="#Ah" x="1541.03" y="1178.5"/>
<path d="M1541.03 1388.9 V1178.5 H1587.93 V1388.9" fill="url(#p6h)" stroke="#000" stroke-width="3.4" stroke-linejoin="miter"/>
<path d="M1039.5 1092.45 V1388.9" stroke="#1c1c1c" stroke-width="1.9" fill="none"/>
<path d="M1040.45 1093.6 H1030.2 M1040.45 1192.03 H1030.2 M1040.45 1290.47 H1030.2" stroke="#000" stroke-width="2.3" fill="none"/>
<path d="M1030.2 1388.9 H1600.2 M1074.55 1388.9 V1397.7 M1144.54 1388.9 V1397.7 M1214.53 1388.9 V1397.7 M1284.52 1388.9 V1397.7 M1354.51 1388.9 V1397.7 M1424.5 1388.9 V1397.7 M1494.49 1388.9 V1397.7 M1564.48 1388.9 V1397.7" stroke="#000" stroke-width="2" fill="none"/>
<text transform="translate(1027 1104.8) scale(1 1.07)" font-size="31" font-weight="bold" text-anchor="end" stroke="#fff" stroke-width="0.35">1.5</text>
<text transform="translate(1027 1203.23) scale(1 1.07)" font-size="31" font-weight="bold" text-anchor="end" stroke="#fff" stroke-width="0.35">1.0</text>
<text transform="translate(1027 1301.67) scale(1 1.07)" font-size="31" font-weight="bold" text-anchor="end" stroke="#fff" stroke-width="0.35">0.5</text>
<text transform="translate(1027 1400.1) scale(1 1.07)" font-size="31" font-weight="bold" text-anchor="end" stroke="#fff" stroke-width="0.35">0.0</text>
<text transform="translate(1074.55 1426.7)" font-size="31" font-weight="bold" text-anchor="middle" stroke="#fff" stroke-width="0.35">a</text>
<text transform="translate(1144.54 1426.7)" font-size="31" font-weight="bold" text-anchor="middle" stroke="#fff" stroke-width="0.35">b</text>
<text transform="translate(1214.53 1426.7)" font-size="31" font-weight="bold" text-anchor="middle" stroke="#fff" stroke-width="0.35">c</text>
<text transform="translate(1284.52 1426.7)" font-size="31" font-weight="bold" text-anchor="middle" stroke="#fff" stroke-width="0.35">d</text>
<text transform="translate(1354.51 1426.7)" font-size="31" font-weight="bold" text-anchor="middle" stroke="#fff" stroke-width="0.35">e</text>
<text transform="translate(1424.5 1426.7)" font-size="31" font-weight="bold" text-anchor="middle" stroke="#fff" stroke-width="0.35">f</text>
<text transform="translate(1494.49 1426.7)" font-size="31" font-weight="bold" text-anchor="middle" stroke="#fff" stroke-width="0.35">g</text>
<text transform="translate(1564.48 1426.7)" font-size="31" font-weight="bold" text-anchor="middle" stroke="#fff" stroke-width="0.35">h</text>
</g>
<g>
<text transform="translate(405.9 1529.3) scale(1 1.01)" font-size="33.3" font-weight="bold" text-anchor="middle">GFRα1</text>
<text transform="translate(42.8 1718) rotate(-90) scale(1 0.93)" font-size="36" font-weight="bold" text-anchor="middle">RQ</text>
<path d="M128.5 1660.9 H149.8" stroke="#000" stroke-width="4.2" stroke-linecap="round" fill="none"/>
<path d="M139.15 1660.9 V1669.6" stroke="#000" stroke-width="3.6" fill="none"/>
<pattern id="p7a" href="#Ba" x="117.4" y="1670.45"/>
<path d="M117.4 1887.8 V1670.45 H160.9 V1887.8" fill="url(#p7a)" stroke="#000" stroke-width="3.7" stroke-linejoin="round"/>
<path d="M194.31 1661.8 H215.61" stroke="#000" stroke-width="4.2" stroke-linecap="round" fill="none"/>
<path d="M204.96 1661.8 V1669.6" stroke="#000" stroke-width="3.6" fill="none"/>
<pattern id="p7b" href="#Bb" x="183.21" y="1670.45"/>
<path d="M183.21 1887.8 V1670.45 H226.71 V1887.8" fill="url(#p7b)" stroke="#000" stroke-width="3.7" stroke-linejoin="round"/>
<path d="M260.12 1646.5 H281.42" stroke="#000" stroke-width="4.2" stroke-linecap="round" fill="none"/>
<path d="M270.77 1646.5 V1649.2" stroke="#000" stroke-width="3.6" fill="none"/>
<pattern id="p7c" href="#Bc" x="249.02" y="1650.05"/>
<path d="M249.02 1887.8 V1650.05 H292.52 V1887.8" fill="url(#p7c)" stroke="#000" stroke-width="3.7" stroke-linejoin="round"/>
<path d="M325.93 1675.3 H347.23" stroke="#000" stroke-width="4.2" stroke-linecap="round" fill="none"/>
<path d="M336.58 1675.3 V1677.2" stroke="#000" stroke-width="3.6" fill="none"/>
<pattern id="p7d" href="#Bd" x="314.83" y="1678.05"/>
<path d="M314.83 1887.8 V1678.05 H358.33 V1887.8" fill="url(#p7d)" stroke="#000" stroke-width="3.7" stroke-linejoin="round"/>
<path d="M391.74 1651.9 H413.04" stroke="#000" stroke-width="4.2" stroke-linecap="round" fill="none"/>
<path d="M402.39 1651.9 V1657.4" stroke="#000" stroke-width="3.6" fill="none"/>
<pattern id="p7e" href="#Be" x="380.64" y="1658.25"/>
<path d="M380.64 1887.8 V1658.25 H424.14 V1887.8" fill="url(#p7e)" stroke="#000" stroke-width="3.7" stroke-linejoin="round"/>
<path d="M457.55 1646.9 H478.85" stroke="#000" stroke-width="4.2" stroke-linecap="round" fill="none"/>
<path d="M468.2 1646.9 V1662.7" stroke="#000" stroke-width="3.6" fill="none"/>
<pattern id="p7f" href="#Bf" x="446.45" y="1663.55"/>
<path d="M446.45 1887.8 V1663.55 H489.95 V1887.8" fill="url(#p7f)" stroke="#000" stroke-width="3.7" stroke-linejoin="round"/>
<path d="M523.36 1641.6 H544.66" stroke="#000" stroke-width="4.2" stroke-linecap="round" fill="none"/>
<path d="M534.01 1641.6 V1645.6" stroke="#000" stroke-width="3.6" fill="none"/>
<pattern id="p7g" href="#Bg" x="512.26" y="1647.75"/>
<path d="M512.26 1887.8 V1646.45 H555.76 V1887.8" fill="url(#p7g)" stroke="#000" stroke-width="3.7" stroke-linejoin="round"/>
<path d="M589.17 1637.1 H610.47" stroke="#000" stroke-width="4.2" stroke-linecap="round" fill="none"/>
<path d="M599.82 1637.1 V1655.9" stroke="#000" stroke-width="3.6" fill="none"/>
<pattern id="p7h" href="#Bh" x="578.07" y="1656.75"/>
<path d="M578.07 1887.8 V1656.75 H621.57 V1887.8" fill="url(#p7h)" stroke="#000" stroke-width="3.7" stroke-linejoin="round"/>
<path d="M106.4 1561.2 V1887.8" stroke="#000" stroke-width="2.8" fill="none"/>
<path d="M107.8 1562.6 H97.7 M107.8 1670.6 H97.7 M107.8 1778.9 H97.7" stroke="#000" stroke-width="2.8" fill="none"/>
<path d="M97.7 1887.8 H633.6 M139.15 1887.8 V1898.4 M204.96 1887.8 V1898.4 M270.77 1887.8 V1898.4 M336.58 1887.8 V1898.4 M402.39 1887.8 V1898.4 M468.2 1887.8 V1898.4 M534.01 1887.8 V1898.4 M599.82 1887.8 V1898.4" stroke="#000" stroke-width="2.8" fill="none"/>
<text transform="translate(95.1 1573.9) scale(0.82 1)" font-size="34.9" font-weight="bold" text-anchor="end" stroke="#000" stroke-width="0.8" stroke-linejoin="round">1.5</text>
<text transform="translate(95.1 1681.9) scale(0.82 1)" font-size="34.9" font-weight="bold" text-anchor="end" stroke="#000" stroke-width="0.8" stroke-linejoin="round">1.0</text>
<text transform="translate(95.1 1790.2) scale(0.82 1)" font-size="34.9" font-weight="bold" text-anchor="end" stroke="#000" stroke-width="0.8" stroke-linejoin="round">0.5</text>
<text transform="translate(95.1 1899.1) scale(0.82 1)" font-size="34.9" font-weight="bold" text-anchor="end" stroke="#000" stroke-width="0.8" stroke-linejoin="round">0.0</text>
<text transform="translate(139.15 1930.1) scale(0.863 1)" font-size="34.7" font-weight="bold" text-anchor="middle" stroke="#000" stroke-width="0.7" stroke-linejoin="round">a</text>
<text transform="translate(204.96 1930.1) scale(0.863 1)" font-size="34.7" font-weight="bold" text-anchor="middle" stroke="#000" stroke-width="0.7" stroke-linejoin="round">b</text>
<text transform="translate(270.77 1930.1) scale(0.863 1)" font-size="34.7" font-weight="bold" text-anchor="middle" stroke="#000" stroke-width="0.7" stroke-linejoin="round">c</text>
<text transform="translate(336.58 1930.1) scale(0.863 1)" font-size="34.7" font-weight="bold" text-anchor="middle" stroke="#000" stroke-width="0.7" stroke-linejoin="round">d</text>
<text transform="translate(402.39 1930.1) scale(0.863 1)" font-size="34.7" font-weight="bold" text-anchor="middle" stroke="#000" stroke-width="0.7" stroke-linejoin="round">e</text>
<text transform="translate(468.2 1930.1) scale(0.863 1)" font-size="34.7" font-weight="bold" text-anchor="middle" stroke="#000" stroke-width="0.7" stroke-linejoin="round">f</text>
<text transform="translate(534.01 1930.1) scale(0.863 1)" font-size="34.7" font-weight="bold" text-anchor="middle" stroke="#000" stroke-width="0.7" stroke-linejoin="round">g</text>
<text transform="translate(599.82 1930.1) scale(0.863 1)" font-size="34.7" font-weight="bold" text-anchor="middle" stroke="#000" stroke-width="0.7" stroke-linejoin="round">h</text>
</g>
</svg>
</body>
</html>
